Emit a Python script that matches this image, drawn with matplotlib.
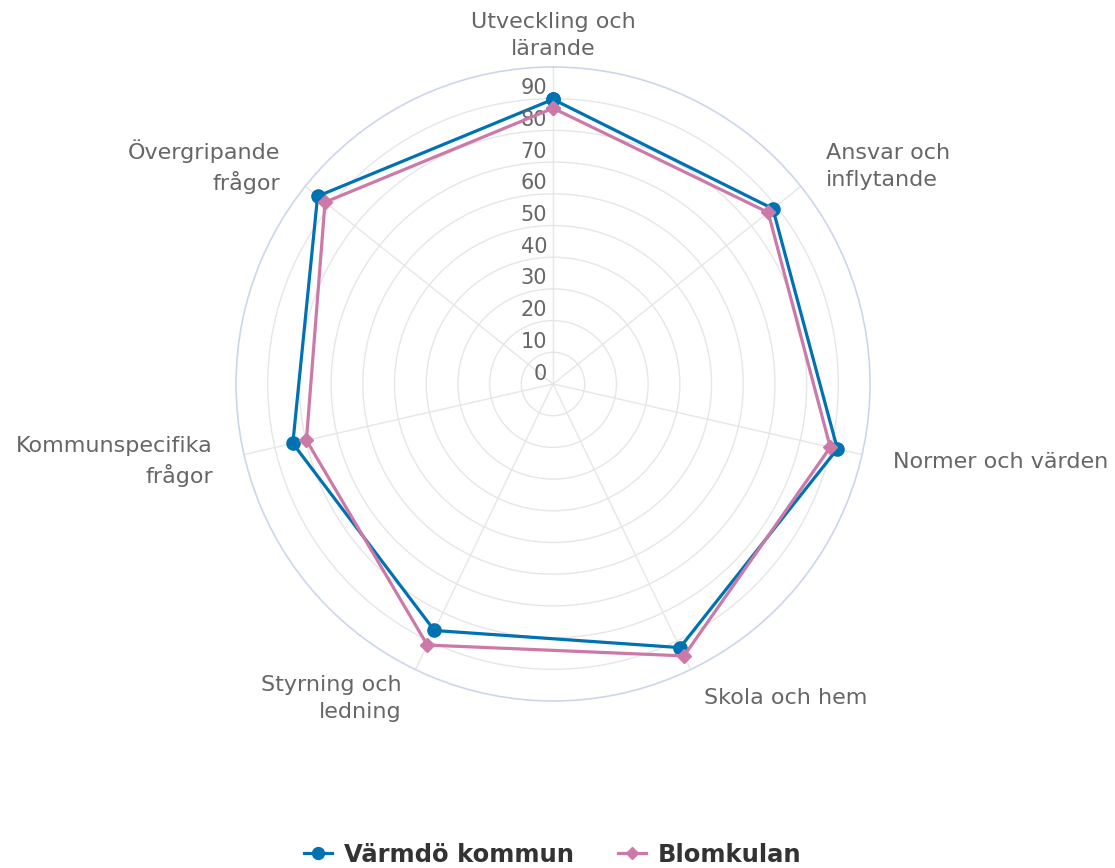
import numpy as np
import matplotlib
matplotlib.use("Agg")
import matplotlib.pyplot as plt
from matplotlib.transforms import offset_copy

# Categories (clockwise from the top)
categories = [
    "Utveckling och\nlärande",
    "Ansvar och\ninflytande",
    "Normer och värden",
    "Skola och hem",
    "Styrning och\nledning",
    "Kommunspecifika\nfrågor",
    "Övergripande\nfrågor",
]
varmdo = [89.8, 88.7, 92.0, 92.3, 86.3, 84.2, 95.0]
blomkulan = [87.0, 86.8, 89.7, 95.2, 91.4, 79.8, 92.0]
radial_ticks = [0, 10, 20, 30, 40, 50, 60, 70, 80, 90]

blue = "#0072b2"
pink = "#cc79a7"
grid_col = "#e6e6e6"
label_col = "#666666"

fig = plt.figure(figsize=(11.15, 8.68), dpi=100)
ax = fig.add_axes([0.2117, 0.1924, 0.5686, 0.7304], projection="polar")
ax.set_theta_offset(np.pi / 2)
ax.set_theta_direction(-1)

n = len(categories)
angles = np.arange(n) * 2 * np.pi / n

ax.set_ylim(0, 100)
ax.set_xticks(angles)
ax.set_xticklabels([])
ax.set_yticks(radial_ticks[1:])
ax.set_yticklabels([])
ax.tick_params(length=0)
ax.grid(True, color=grid_col, linewidth=1.0)
ax.spines["polar"].set_color("#ccd6eb")
ax.spines["polar"].set_linewidth(1.2)

# closed polygons
a_closed = np.append(angles, angles[0])
ax.plot(a_closed, varmdo + varmdo[:1], color=blue, linewidth=2.3,
        marker="o", markersize=9.5, label="Värmdö kommun", zorder=3)
ax.plot(a_closed, blomkulan + blomkulan[:1], color=pink, linewidth=2.3,
        marker="D", markersize=7, label="Blomkulan", zorder=4)

# radial labels on the top spoke
tr = offset_copy(ax.transData, fig=fig, x=-6, y=10.5, units="dots")
for v in radial_ticks:
    ax.text(0, v, str(v), transform=tr, ha="right", va="center",
            fontsize=15, color=label_col)

# category labels
for ang, lab in zip(angles, categories):
    x = np.sin(ang)
    if abs(x) < 0.01:
        ha = "center"
    elif x > 0:
        ha = "left"
    else:
        ha = "right"
    ax.text(ang, 110, lab, ha=ha, va="center", fontsize=16,
            color=label_col, multialignment=ha, linespacing=1.42,
            clip_on=False)

leg = fig.legend(loc="center", bbox_to_anchor=(0.496, 0.015), ncol=2,
                 frameon=False, handlelength=1.15, handletextpad=0.5,
                 columnspacing=1.8, markerscale=0.9,
                 prop={"weight": "bold", "size": 17.5})
for t in leg.get_texts():
    t.set_color("#333333")

fig.savefig("out.png", dpi=100)
